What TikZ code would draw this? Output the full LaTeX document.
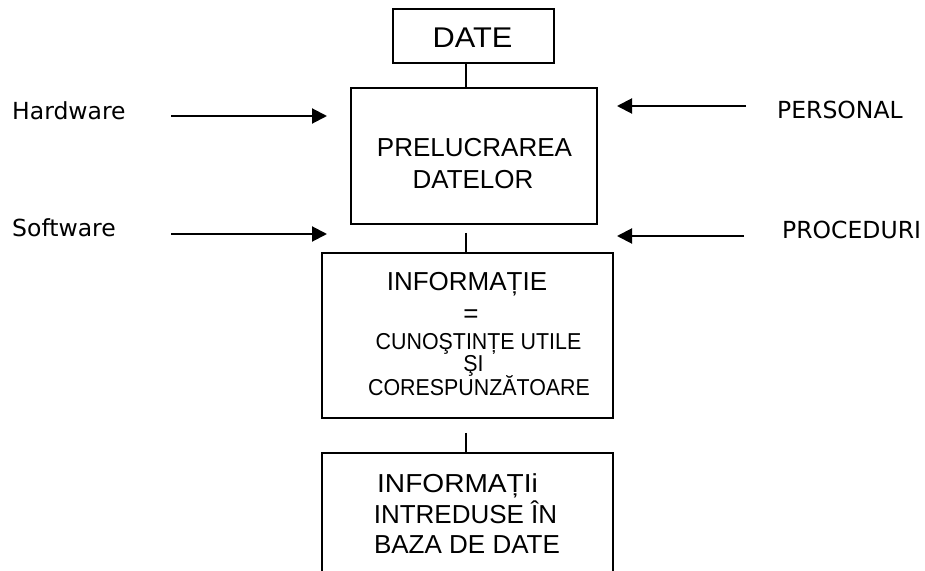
\documentclass[tikz,border=0pt]{standalone}
\usepackage{fontspec}
\setmainfont{Liberation Sans}
\newfontfamily\sidefont{DejaVu Sans}
\newfontfamily\narrowfont[FakeStretch=0.93]{Liberation Sans}
\newfontfamily\widefont[FakeStretch=1.08]{Liberation Sans}
\usetikzlibrary{arrows.meta}

\tikzset{
  frame/.style={draw, line width=1.5bp, inner sep=0pt, minimum width=#1},
  conn/.style={line width=1.6bp},
  arr/.style={line width=2bp, -{Triangle[length=15bp,width=15bp]}},
  txt/.style={inner sep=0pt, anchor=base},
  side/.style={inner sep=0pt, anchor=base west, font=\sidefont\fontsize{23.5bp}{26bp}\selectfont},
  big/.style={font=\widefont\fontsize{28.5bp}{32bp}\selectfont},
  mid/.style={font=\fontsize{26bp}{30bp}\selectfont},
  midwide/.style={font=\widefont\fontsize{26bp}{30bp}\selectfont},
  small/.style={font=\narrowfont\fontsize{23bp}{26bp}\selectfont},
}

\begin{document}
\begin{tikzpicture}[x=1bp,y=-1bp]
  \clip (0,0) rectangle (925,571);
  \fill[white] (0,0) rectangle (925,571);

  % boxes
  \node[frame=161bp, minimum height=54bp]  (date) at (473.5,36) {};
  \node[frame=246bp, minimum height=136bp] (proc) at (474,156) {};
  \node[frame=291bp, minimum height=165bp] (info) at (467.5,335.5) {};
  \node[frame=291bp, minimum height=160bp] (db)   at (467.5,533) {};

  % box texts
  \node[txt, big] (tDate) at (472.5,48) {DATE};
  \node[txt, mid] (tProc1) at (474.5,157) {PRELUCRAREA};
  \node[txt, mid] (tProc2) at (473,189) {DATELOR};
  \node[txt, mid] (tInfo1) at (467,290) {INFORMAȚIE};
  \node[txt, mid] (tInfo2) at (471,322) {=};
  \node[txt, small] (tInfo3) at (478.5,349) {CUNOŞTINȚE UTILE};
  \node[txt, small] (tInfo4) at (473.5,371.5) {ŞI};
  \node[txt, small] (tInfo5) at (479,395) {CORESPUNZĂTOARE};
  \node[txt, midwide] (tDb1) at (457.5,492) {INFORMAȚIi};
  \node[txt, mid] (tDb2) at (465.5,523) {INTREDUSE ÎN};
  \node[txt, mid] (tDb3) at (467,553) {BAZA DE DATE};

  % vertical links between the boxes
  \draw[conn] ([xshift=-7.5bp]date.south) -- ([xshift=-7.5bp]date.south |- proc.north);
  \draw[conn] ([shift={(-8bp,-8bp)}]proc.south) -- ([xshift=-8bp]proc.south |- info.north);
  \draw[conn] ([shift={(-1.5bp,-14bp)}]info.south) -- ([xshift=-1.5bp]info.south |- db.north);

  % resources
  \node[side] (hw) at (12,120) {Hardware};
  \node[side] (sw) at (12,237) {Software};
  \node[side] (pers) at (777,119) {PERSONAL};
  \node[side] (proced) at (782,239) {PROCEDURI};

  \coordinate (hwS) at (171,116);  \coordinate (hwE) at (327,116);
  \coordinate (swS) at (171,234);  \coordinate (swE) at (327,234);
  \coordinate (peS) at (746,106);  \coordinate (peE) at (617,106);
  \coordinate (prS) at (744,236);  \coordinate (prE) at (617,236);

  \draw[arr] (hwS) -- (hwE);
  \draw[arr] (swS) -- (swE);
  \draw[arr] (peS) -- (peE);
  \draw[arr] (prS) -- (prE);
\end{tikzpicture}
\end{document}
